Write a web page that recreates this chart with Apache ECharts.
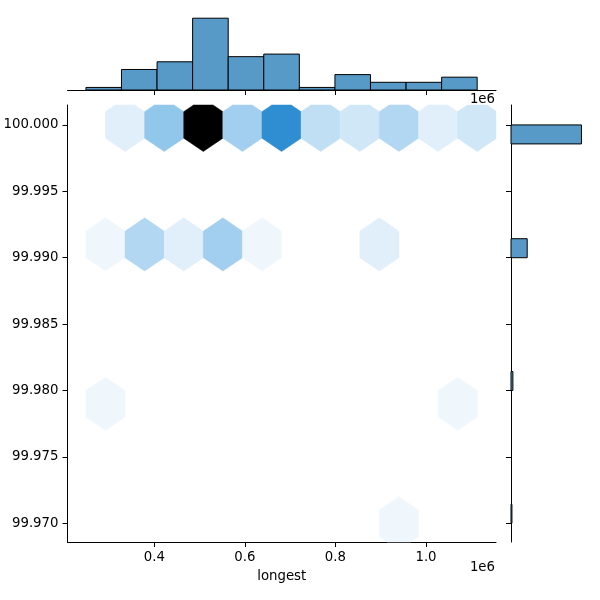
<!DOCTYPE html>
<html>
<head>
<meta charset="utf-8">
<script src="https://cdn.jsdelivr.net/npm/echarts@6/dist/echarts.min.js"></script>
<style>
html, body { margin: 0; padding: 0; background: #fff; }
#chart { width: 600px; height: 600px; }
</style>
</head>
<body>
<div id="chart"></div>
<script>
// hex bin centres (longest, y) and their counts
var hexX = [335400, 421800, 508200, 594600, 681000, 767400, 853800, 940200, 1026600, 1113000,
	292200, 378600, 465000, 551400, 637800, 897000,
	292200, 1070200,
	940200];
var hexY = [100.000, 100.000, 100.000, 100.000, 100.000, 100.000, 100.000, 100.000, 100.000, 100.000,
	99.991, 99.991, 99.991, 99.991, 99.991, 99.991,
	99.979, 99.979,
	99.970];
var hexCount = [2, 7, 28, 6, 14, 4, 3, 5, 2, 3,
	1, 5, 2, 6, 1, 2,
	1, 1,
	1];

// top marginal histogram (longest)
var topEdges = [249000, 327500, 406100, 484600, 563200, 641700, 720300, 798900, 877400, 956000, 1034500, 1113000];
var topCounts = [1, 8, 11, 28, 13, 14, 1, 6, 3, 3, 5];

// right marginal histogram (only the non-empty bins)
var rightLo = [99.99857, 99.99000, 99.98000, 99.97000];
var rightHi = [100.00000, 99.99143, 99.98143, 99.97143];
var rightCounts = [74, 17, 2, 1];

// tick labels
var xTicks = [400000, 600000, 800000, 1000000];
var yTicks = [99.970, 99.975, 99.980, 99.985, 99.990, 99.995, 100.000];

var X_MIN = 208300, X_MAX = 1154600;
var Y_MIN = 99.96859, Y_MAX = 100.0015;
var HEX_W = 86400, HEX_H = 0.006; //hexbin cell size sx, sy
var FONT = 'DejaVu Sans';
var BAR_FILL = '#5799c7';

var hexMax = Math.max.apply(null, hexCount);

function hv(m1, m2, h) {
	h = ((h % 1) + 1) % 1;
	if (h < 1 / 6) return m1 + (m2 - m1) * h * 6;
	if (h < 0.5) return m2;
	if (h < 2 / 3) return m1 + (m2 - m1) * (2 / 3 - h) * 6;
	return m1;
}

function hlsToRgb(h, l, s) {
	var m2 = l <= 0.5 ? l * (1 + s) : l + s - l * s;
	var m1 = 2 * l - m2;
	return [hv(m1, m2, h + 1 / 3), hv(m1, m2, h), hv(m1, m2, h - 1 / 3)];
}

// 12 stops from white through C0 to black, blended linearly (seaborn hex cmap)
var cmapStops = [];
for (var k = 0; k < 12; k++) {
	cmapStops.push(hlsToRgb(0.5682, 1 - k / 11, 0.7059));
}

function hexColor(c) {
	var t = Math.min(Math.max(c / hexMax, 0), 1) * 11;
	var i0 = Math.min(Math.floor(t), 10);
	var f = t - i0;
	var a = cmapStops[i0], b = cmapStops[i0 + 1];
	var rgb = [];
	for (var j = 0; j < 3; j++) {
		rgb.push(Math.round((a[j] + (b[j] - a[j]) * f) * 255));
	}
	return 'rgb(' + rgb.join(',') + ')';
}

var hexData = [];
for (var i = 0; i < hexX.length; i++) {
	hexData.push([hexX[i], hexY[i], hexCount[i]]);
}
var topData = [];
for (var i = 0; i < topCounts.length; i++) {
	topData.push([topEdges[i], topEdges[i + 1], topCounts[i]]);
}
var rightData = [];
for (var i = 0; i < rightCounts.length; i++) {
	rightData.push([rightCounts[i], rightLo[i], rightHi[i]]);
}

function clipPoly(pts, r) { //clip polygon to the plot rect
	var edges = [
		function(p) { return p[0] >= r.x; },
		function(p) { return p[0] <= r.x + r.width; },
		function(p) { return p[1] >= r.y; },
		function(p) { return p[1] <= r.y + r.height; }
	];
	var cut = [
		function(a, b) { var t = (r.x - a[0]) / (b[0] - a[0]); return [r.x, a[1] + t * (b[1] - a[1])]; },
		function(a, b) { var t = (r.x + r.width - a[0]) / (b[0] - a[0]); return [r.x + r.width, a[1] + t * (b[1] - a[1])]; },
		function(a, b) { var t = (r.y - a[1]) / (b[1] - a[1]); return [a[0] + t * (b[0] - a[0]), r.y]; },
		function(a, b) { var t = (r.y + r.height - a[1]) / (b[1] - a[1]); return [a[0] + t * (b[0] - a[0]), r.y + r.height]; }
	];
	for (var e = 0; e < 4; e++) {
		var out = [];
		for (var i = 0; i < pts.length; i++) {
			var a = pts[i], b = pts[(i + 1) % pts.length];
			var ia = edges[e](a), ib = edges[e](b);
			if (ia) out.push(a);
			if (ia != ib) out.push(cut[e](a, b));
		}
		pts = out;
		if (!pts.length) break;
	}
	return pts;
}

function renderHex(params, api) {
	var cx = api.value(0), cy = api.value(1);
	var dx = [0.5, 0.5, 0, -0.5, -0.5, 0];
	var dy = [-0.5, 0.5, 1, 0.5, -0.5, -1];
	var pts = [];
	for (var k = 0; k < 6; k++) {
		pts.push(api.coord([cx + dx[k] * HEX_W, cy + dy[k] * HEX_H / 3]));
	}
	var cs = params.coordSys;
	pts = clipPoly(pts, { x: cs.x, y: cs.y, width: cs.width, height: cs.height });
	var col = hexColor(api.value(2));
	return {
		type: 'polygon',
		shape: { points: pts },
		style: { fill: col, stroke: col, lineWidth: 0.5 }
	};
}

function renderTopBar(params, api) {
	var p0 = api.coord([api.value(0), 0]);
	var p1 = api.coord([api.value(1), api.value(2)]);
	return {
		type: 'rect',
		shape: { x: p0[0], y: p1[1], width: p1[0] - p0[0], height: p0[1] - p1[1] },
		style: { fill: BAR_FILL, stroke: '#000', lineWidth: 1 }
	};
}

function renderRightBar(params, api) {
	var p0 = api.coord([0, api.value(1)]);
	var p1 = api.coord([api.value(0), api.value(2)]);
	return {
		type: 'rect',
		shape: { x: p0[0], y: p1[1], width: p1[0] - p0[0], height: p0[1] - p1[1] },
		style: { fill: BAR_FILL, stroke: '#000', lineWidth: 1 }
	};
}

var axisLine = { show: true, onZero: false, lineStyle: { color: '#000', width: 1 } };

var myChart = echarts.init(document.getElementById('chart'), null, { renderer: 'canvas' });
var option = {
	animation: false,
	backgroundColor: '#fff',
	textStyle: { fontFamily: FONT },
	grid: [
		{ left: 67.5, top: 105, width: 428.5, height: 437 },
		{ left: 67.5, top: 14.6, width: 428.5, height: 75.4 },
		{ left: 511, top: 105, width: 74, height: 437 }
	],
	xAxis: [{
			gridIndex: 0,
			type: 'value',
			min: X_MIN,
			max: X_MAX,
			axisLine: axisLine,
			axisTick: { show: true, length: 5, customValues: xTicks, lineStyle: { color: '#000' } },
			axisLabel: {
				customValues: xTicks,
				margin: 9.5,
				fontSize: 13.3,
				color: '#000',
				fontFamily: FONT,
				formatter: function(v) { return (v / 1e6).toFixed(1); }
			},
			splitLine: { show: false },
			name: 'longest',
			nameLocation: 'middle',
			nameGap: 28.5,
			nameTextStyle: { fontSize: 13.3, color: '#000', fontFamily: FONT }
		},
		{
			gridIndex: 1,
			type: 'value',
			min: X_MIN,
			max: X_MAX,
			axisLine: axisLine,
			axisTick: { show: true, length: 5, customValues: xTicks, lineStyle: { color: '#000' } },
			axisLabel: { show: false },
			splitLine: { show: false }
		},
		{
			gridIndex: 2,
			type: 'value',
			min: 0,
			max: 77.7,
			show: false
		}
	],
	yAxis: [{
			gridIndex: 0,
			type: 'value',
			min: Y_MIN,
			max: Y_MAX,
			axisLine: axisLine,
			axisTick: { show: true, length: 5, customValues: yTicks, lineStyle: { color: '#000' } },
			axisLabel: {
				customValues: yTicks,
				margin: 9,
				fontSize: 13.3,
				color: '#000',
				fontFamily: FONT,
				formatter: function(v) { return v.toFixed(3); }
			},
			splitLine: { show: false }
		},
		{
			gridIndex: 1,
			type: 'value',
			min: 0,
			max: 29.4,
			show: false
		},
		{
			gridIndex: 2,
			type: 'value',
			min: Y_MIN,
			max: Y_MAX,
			axisLine: axisLine,
			axisTick: { show: true, length: 5, customValues: yTicks, lineStyle: { color: '#000' } },
			axisLabel: { show: false },
			splitLine: { show: false }
		}
	],
	graphic: [{
			type: 'text',
			x: 495,
			y: 100,
			style: { text: '1e6', font: '13.3px "DejaVu Sans"', fill: '#000', align: 'right', verticalAlign: 'middle' }
		},
		{
			type: 'text',
			x: 495,
			y: 568,
			style: { text: '1e6', font: '13.3px "DejaVu Sans"', fill: '#000', align: 'right', verticalAlign: 'middle' }
		}
	],
	series: [{
			type: 'custom',
			name: 'hex',
			xAxisIndex: 0,
			yAxisIndex: 0,
			renderItem: renderHex,
			data: hexData,
			z: 1
		},
		{
			type: 'custom',
			name: 'longest',
			xAxisIndex: 1,
			yAxisIndex: 1,
			renderItem: renderTopBar,
			data: topData
		},
		{
			type: 'custom',
			name: 'y',
			xAxisIndex: 2,
			yAxisIndex: 2,
			renderItem: renderRightBar,
			data: rightData
		}
	]
};
myChart.setOption(option);
</script>
</body>
</html>
